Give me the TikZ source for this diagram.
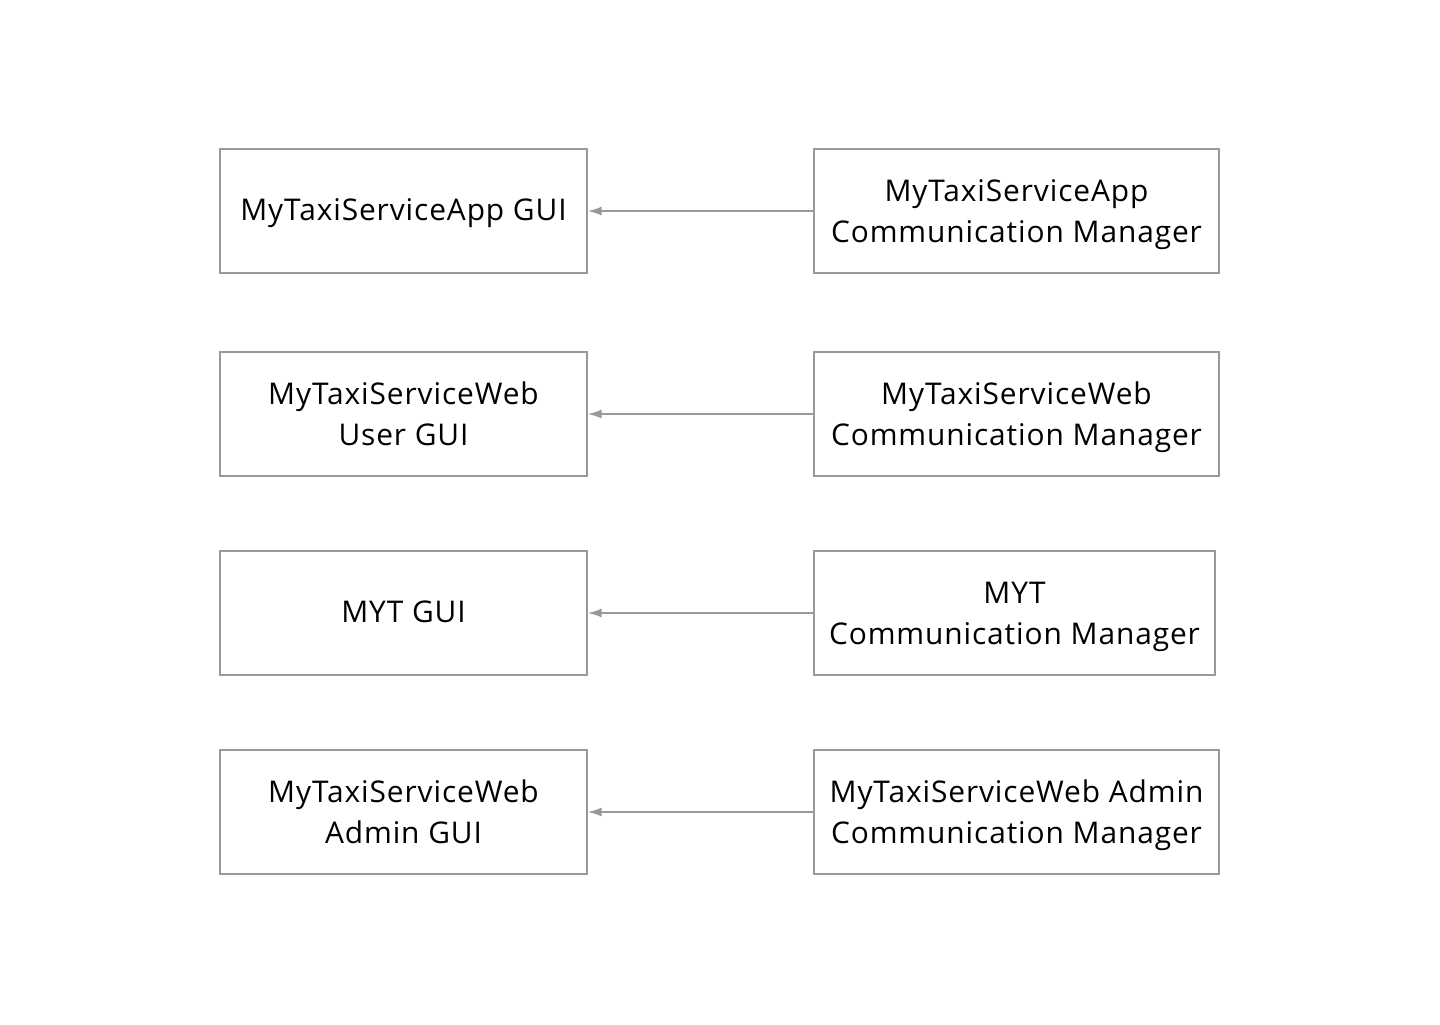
\documentclass[tikz,border=0pt]{standalone}
\usepackage{fontspec}
\setmainfont[LetterSpace=3]{Open Sans}
\usepackage{xcolor}
\usepackage{tikz}
\usetikzlibrary{arrows.meta,positioning}

\definecolor{linegray}{HTML}{999999}

\begin{document}
\begin{tikzpicture}[
    x=0.5bp, y=-0.5bp,
    box/.style={rectangle, draw=linegray, line width=0.65bp, minimum height=62bp, align=center, font=\fontsize{15}{20.4}\selectfont, text height=13.2bp, text depth=3.5bp, inner sep=0pt},
    twolines/.style={text height=34.5bp},
    gui/.style={box, minimum width=183.5bp},
    comm/.style={box, twolines, minimum width=202.5bp},
    arrow/.style={-{Latex[length=7bp,width=4.5bp]}, draw=linegray, line width=0.9bp}
]
    \useasboundingbox (0,0) rectangle (1440,1024);

    % GUI column
    \node[gui] (appgui) at (403.5,211) {MyTaxiServiceApp GUI};
    \node[gui, twolines] (webgui) at (403.5,414) {MyTaxiServiceWeb\\User GUI};
    \node[gui] (mytgui) at (403.5,613) {MYT GUI};
    \node[gui, twolines] (admingui) at (403.5,812) {MyTaxiServiceWeb\\Admin GUI};

    % Communication managers
    \node[comm] (appcomm) at (1016.5,211) {MyTaxiServiceApp\\Communication Manager};
    \node[comm] (webcomm) at (1016.5,414) {MyTaxiServiceWeb\\Communication Manager};
    \node[comm, minimum width=200.5bp] (mytcomm) at (1014.5,613) {MYT\\Communication Manager};
    \node[comm] (admincomm) at (1016.5,812) {MyTaxiServiceWeb Admin\\Communication Manager};

    % Arrows
    \draw[arrow] (appcomm) -- (appgui);
    \draw[arrow] (webcomm) -- (webgui);
    \draw[arrow] (mytcomm) -- (mytgui);
    \draw[arrow] (admincomm) -- (admingui);
\end{tikzpicture}
\end{document}
